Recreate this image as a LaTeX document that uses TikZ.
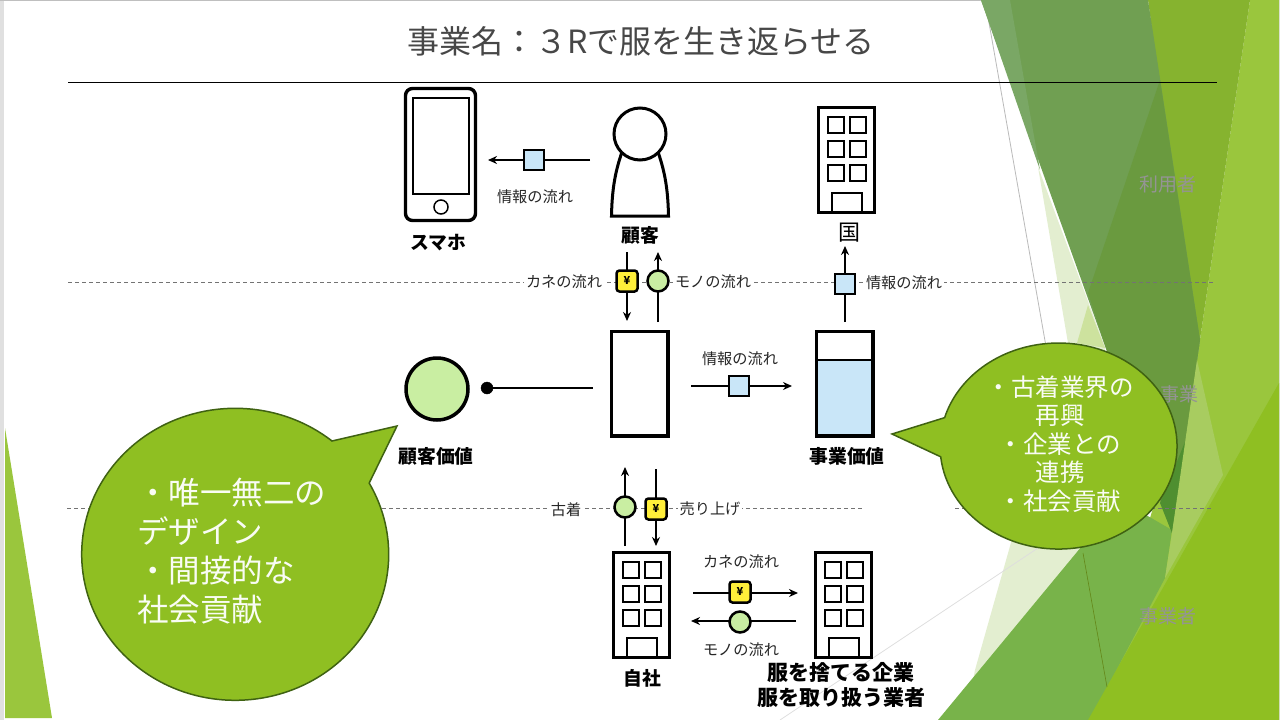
\documentclass[tikz,border=0pt]{standalone}
\usepackage{fontspec}
\setmainfont{Noto Sans CJK JP}
\usetikzlibrary{arrows.meta}
\definecolor{bubblegreen}{HTML}{8FBF22}
\definecolor{bubbleline}{HTML}{3F6212}
\definecolor{brightgreen}{HTML}{9AC63D}
\definecolor{olivegreen}{HTML}{86B32F}
\definecolor{darkgreen}{HTML}{709F52}
\definecolor{lightdark}{HTML}{7AA765}
\definecolor{deepgreen}{HTML}{6A9A3F}
\definecolor{forestgreen}{HTML}{4F8F30}
\definecolor{midgreen}{HTML}{78B34A}
\definecolor{palegreen}{HTML}{E3EED0}
\definecolor{sagegreen}{HTML}{A8CC60}
\definecolor{coingreen}{HTML}{C9EEA2}
\definecolor{infoblue}{HTML}{C9E6F8}
\definecolor{moneyyellow}{HTML}{FFEF3A}
\tikzset{
  flow/.style={line width=2.2pt,-{Stealth[length=9pt,width=8pt]}},
  plainflow/.style={line width=2.2pt},
  infobox/.style={draw,line width=2.5pt,fill=infoblue,minimum size=20pt,inner sep=0pt},
  moneybox/.style={draw,line width=2.5pt,fill=moneyyellow,rounded corners=3pt,minimum size=21pt,inner sep=0pt,font=\bfseries\fontsize{11}{11}\selectfont},
  coin/.style={draw,circle,line width=2.5pt,fill=coingreen,minimum size=21pt,inner sep=0pt},
  smalltext/.style={font=\fontsize{15.2}{16}\selectfont,text=black!85,inner sep=2pt,fill=white},
  boldtext/.style={font=\bfseries\fontsize{18.8}{20}\selectfont,inner sep=0pt},
  sidetext/.style={font=\fontsize{19}{20}\selectfont,text=black!42,inner sep=0pt},
  bubble/.style={draw=bubbleline,line width=1.5pt,fill=bubblegreen},
  pics/building/.style={code={
    \draw[line width=3.4pt] (1.5,1.5) rectangle (57.5,106.5);
    \foreach \wx in {11,33}
      \foreach \wy in {11,35,59}
        \draw[line width=1.5pt] (\wx,\wy) rectangle ++(16,16);
    \draw[line width=1.5pt] (15,106) |- (45,87) -- (45,106);
  }}
}
\begin{document}
\begin{tikzpicture}[x=1pt,y=-1pt]
  \useasboundingbox (0,0) rectangle (1280,720);
  \fill[white] (0,0) rectangle (1280,720);
  \fill[black!12] (0,0) rectangle (4,720);
  \draw[black!25,line width=0.7pt] (0,0.5) -- (1280,0.5);
  \fill[black!10] (1279,0) rectangle (1280,720);

  \fill[palegreen] (1038,167) -- (1105,347) -- (1100,400) -- (1068,343) -- cycle;
  \fill[palegreen] (1040,440) -- (1120,500) -- (965,720) -- (975,670) -- cycle;
  \fill[brightgreen!50!white] (1077,343) -- (1088,305) -- (1105,348) -- cycle;
  \draw[black!27,line width=0.8pt] (985,0) -- (1110,710);
  \draw[black!13,line width=0.8pt] (780,720) -- (1050,540);
  \fill[brightgreen] (5,428) -- (52,718) -- (5,718) -- cycle;
  \fill[brightgreen] (1250,0) -- (1279,0) -- (1279,720) -- (1090,720) -- (1197,360) -- cycle;
  \fill[olivegreen] (1148,0) -- (1250,0) -- (1197,360) -- cycle;
  \fill[darkgreen] (981,0) -- (1148,0) -- (1200,340) -- (1172,533) -- cycle;
  \fill[lightdark] (981,0) -- (1010,0) -- (1040,170) -- cycle;
  \fill[deepgreen] (1160,80) -- (1200,340) -- (1172,533) -- (1105,345) -- (1088,293) -- cycle;
  \fill[midgreen] (1120,500) -- (1172,530) -- (1165,578) -- (1090,720) -- (938,720) -- cycle;
  \fill[forestgreen] (1160,503) -- (1187,437) -- (1172,533) -- cycle;
  \fill[sagegreen] (1197,360) -- (1223,475) -- (1165,578) -- (1172,533) -- cycle;
  \fill[bubblegreen] (1279,383) -- (1279,720) -- (1088,720) -- cycle;
  \draw[black!30!bubblegreen,line width=0.6pt] (1083,553) -- (1107,687);

  \node[sidetext] (userside) at (1168,184) {利用者};
  \node[sidetext] (bizside) at (1179,394) {事業};
  \node[sidetext] (firmside) at (1168,616) {事業者};

  \node[font=\fontsize{32}{34}\selectfont,text=black!72,inner sep=0pt] (title) at (641,41) {事業名：３Rで服を生き返らせる};
  \draw[black,line width=0.8pt] (68,82) -- (1217,82);
  \draw[black!55,line width=0.9pt,dash pattern=on 4pt off 3pt] (68,282) -- (1215,282);
  \draw[black!55,line width=0.8pt,dash pattern=on 4pt off 3pt] (67,508) -- (863,508);
  \draw[black!55,line width=0.8pt,dash pattern=on 4pt off 3pt] (955,508) -- (1213,508);

  \draw[line width=3.4pt,rounded corners=7pt] (405.5,88.5) rectangle (475.5,220.5);
  \draw[line width=1.5pt] (413,98) rectangle (469,194);
  \draw[line width=1.5pt] (441,207) circle (7);
  \node[boldtext] (phone) at (438,243) {スマホ};

  \draw[line width=3pt,fill=white] (622,152) .. controls (615,172) and (612,190) .. (611.5,216) -- (668.5,216) .. controls (668,190) and (665,172) .. (658,152);
  \draw[line width=3pt,fill=white] (640,134) circle (26);
  \node[boldtext] (customer) at (640,235) {顧客};

  \pic at (817,106) {building};
  \node[font=\fontsize{22}{24}\selectfont,inner sep=0pt] (nation) at (849,233) {国};

  \draw[line width=3.4pt] (611.5,331.5) rectangle (668,436);
  \node (service) at (640,384) {};
  \fill[infoblue] (816,360) rectangle (873,436);
  \draw[line width=1.5pt] (816,360) -- (873,360);
  \draw[line width=3.4pt] (816.5,331.5) rectangle (873,436);
  \node[boldtext] (bizvalue) at (847,456) {事業価値};

  \node[draw,circle,line width=3.5pt,fill=coingreen,minimum size=62pt,inner sep=0pt] (value) at (437,389) {};
  \node[boldtext] (custvalue) at (436,456) {顧客価値};
  \node[draw,circle,fill=black,minimum size=12pt,inner sep=0pt] (dot) at (487,388) {};
  \coordinate (dotend) at (593,388);
  \draw[plainflow] (dot) -- (dotend);

  \pic at (612,551) {building};
  \node[boldtext] (ownfirm) at (642,678) {自社};
  \pic at (814,551) {building};
  \node[font=\bfseries\fontsize{21}{25}\selectfont,align=center,inner sep=0pt] (dumpfirm) at (841,685) {服を捨てる企業\\服を取り扱う業者};

  \coordinate (phonein) at (488,160);
  \coordinate (custout) at (590,160);
  \draw[flow] (custout) -- (phonein);
  \node[infobox] (infophone) at (534,160) {};
  \node[smalltext,fill=none] (infophonetext) at (535,197) {情報の流れ};

  \coordinate (moneyA) at (627,252);
  \coordinate (moneyB) at (627,321);
  \draw[flow] (moneyA) -- (moneyB);
  \node[moneybox] (moneycust) at (627,281) {¥};
  \coordinate (goodsA) at (658,322);
  \coordinate (goodsB) at (658,252);
  \draw[flow] (goodsA) -- (goodsB);
  \node[coin] (goodscust) at (658,281) {};
  \node[smalltext] (moneycusttext) at (564,282) {カネの流れ};
  \node[smalltext] (goodscusttext) at (713,282) {モノの流れ};

  \coordinate (infoA) at (845,322);
  \coordinate (infoB) at (845,246);
  \draw[flow] (infoA) -- (infoB);
  \node[infobox] (infonation) at (845,284) {};
  \node[smalltext] (infonationtext) at (904,283) {情報の流れ};

  \coordinate (valueA) at (691,386);
  \coordinate (valueB) at (792,386);
  \draw[flow] (valueA) -- (valueB);
  \node[infobox] (infovalue) at (739,386) {};
  \node[smalltext,fill=none] (infovaluetext) at (740,359) {情報の流れ};

  \coordinate (usedA) at (625,546);
  \coordinate (usedB) at (625,467);
  \draw[flow] (usedA) -- (usedB);
  \node[coin] (usedcoin) at (625,507) {};
  \coordinate (salesA) at (656,469);
  \coordinate (salesB) at (656,546);
  \draw[flow] (salesA) -- (salesB);
  \node[moneybox] (salesbox) at (656,509) {¥};
  \node[smalltext] (usedtext) at (566,510) {古着};
  \node[smalltext] (salestext) at (710,509) {売り上げ};

  \coordinate (payA) at (693,593);
  \coordinate (payB) at (798,593);
  \draw[flow] (payA) -- (payB);
  \node[moneybox] (paybox) at (740,592) {¥};
  \coordinate (clothA) at (796,621);
  \coordinate (clothB) at (691,621);
  \draw[flow] (clothA) -- (clothB);
  \node[coin] (clothcoin) at (740,622) {};
  \node[smalltext,fill=none] (paytext) at (741,562) {カネの流れ};
  \node[smalltext,fill=none] (clothtext) at (741,650) {モノの流れ};

  \draw[bubble] (332,441) arc[start angle=50.9,end angle=389.2,x radius=153.5pt,y radius=146pt] -- (397,426) -- cycle;
  \node[font=\fontsize{31.5}{39}\selectfont,text=white!95!bubblegreen,align=left,anchor=north west,inner sep=0pt] (leftvoice) at (137,478) {・唯一無二の\\デザイン\\・間接的な\\社会貢献};
  \draw[bubble] (940.7,456.8) arc[start angle=186,end angle=524,x radius=118.5pt,y radius=103pt] -- (892,434) -- cycle;
  \node[font=\fontsize{24.5}{28.5}\selectfont,text=white!95!bubblegreen,align=center,inner sep=0pt] (rightvoice) at (1060,444) {・古着業界の\\再興\\・企業との\\連携\\・社会貢献};
\end{tikzpicture}
\end{document}
